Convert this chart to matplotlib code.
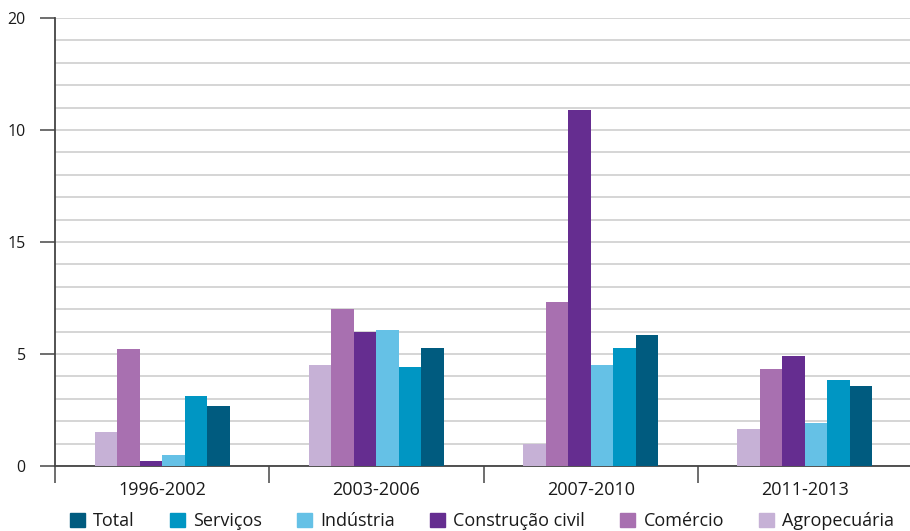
import numpy as np
import matplotlib
matplotlib.use("Agg")
import matplotlib.pyplot as plt
import matplotlib.patches as mpatches
import matplotlib.ticker as mticker

periods = ["1996-2002", "2003-2006", "2007-2010", "2011-2013"]

# per-sector values, one entry per period
agropecuaria = [1.52, 4.53, 0.97, 1.63]
comercio = [5.22, 7.03, 7.30, 4.31]
construcao = [0.22, 5.97, 15.90, 4.89]
industria = [0.50, 6.05, 4.53, 1.90]
servicos = [3.13, 4.40, 5.25, 3.86]
total = [2.68, 5.25, 5.87, 3.59]

ytick_vals = [0, 5, 10, 15, 20]
ytick_text = ["0", "5", "15", "10", "20"]

series = [
    ("Agropecuária", agropecuaria, "#c6b1d6"),
    ("Comércio", comercio, "#a870b0"),
    ("Construção civil", construcao, "#652d90"),
    ("Indústria", industria, "#65c1e6"),
    ("Serviços", servicos, "#0096c3"),
    ("Total", total, "#005b7f"),
]

plt.rcParams["font.family"] = ["Open Sans", "DejaVu Sans"]

W, H = 910, 531
fig = plt.figure(figsize=(W / 100, H / 100), dpi=100)
ax = fig.add_axes([55 / W, 65 / H, (912 - 55) / W, 448 / H])

x = np.arange(len(periods))
bw = 0.105
n = len(series)
for i, (name, vals, col) in enumerate(series):
    off = (i - (n - 1) / 2) * bw
    ax.bar(x + off, vals, width=bw, color=col, zorder=3, linewidth=0)

ax.set_xlim(-0.5, 3.5)
ax.set_ylim(0, 20)

ax.set_yticks(ytick_vals)
ax.set_yticklabels(ytick_text)
ax.yaxis.set_minor_locator(mticker.MultipleLocator(1))
ax.tick_params(axis="y", which="major", length=11, width=1.2, color="#555555",
               labelsize=11.5, labelcolor="#1a1a1a", pad=10)
ax.tick_params(axis="y", which="minor", length=0)
ax.grid(axis="y", which="both", color="#d2d2d2", linewidth=1.3, zorder=0)

ax.set_xticks(x)
ax.set_xticklabels(periods)
ax.set_xticks(np.arange(-0.5, 3.5, 1), minor=True)
ax.tick_params(axis="x", which="major", length=0, labelsize=13,
               labelcolor="#1a1a1a", pad=11)
ax.tick_params(axis="x", which="minor", length=12, width=1.2, color="#555555")

for s in ["top", "right"]:
    ax.spines[s].set_visible(False)
for s in ["left", "bottom"]:
    ax.spines[s].set_color("#444444")
    ax.spines[s].set_linewidth(1.3)

handles = [mpatches.Patch(color=col, label=name) for name, _, col in series[::-1]]
fig.legend(handles=handles, loc="center left", bbox_to_anchor=(70 / W, 10 / H),
           ncol=6, frameon=False, fontsize=13, borderpad=0, borderaxespad=0,
           handlelength=0.83, handleheight=0.83, handletextpad=0.45,
           columnspacing=1.95, labelcolor="#1a1a1a")

fig.savefig("out.png", dpi=100)
